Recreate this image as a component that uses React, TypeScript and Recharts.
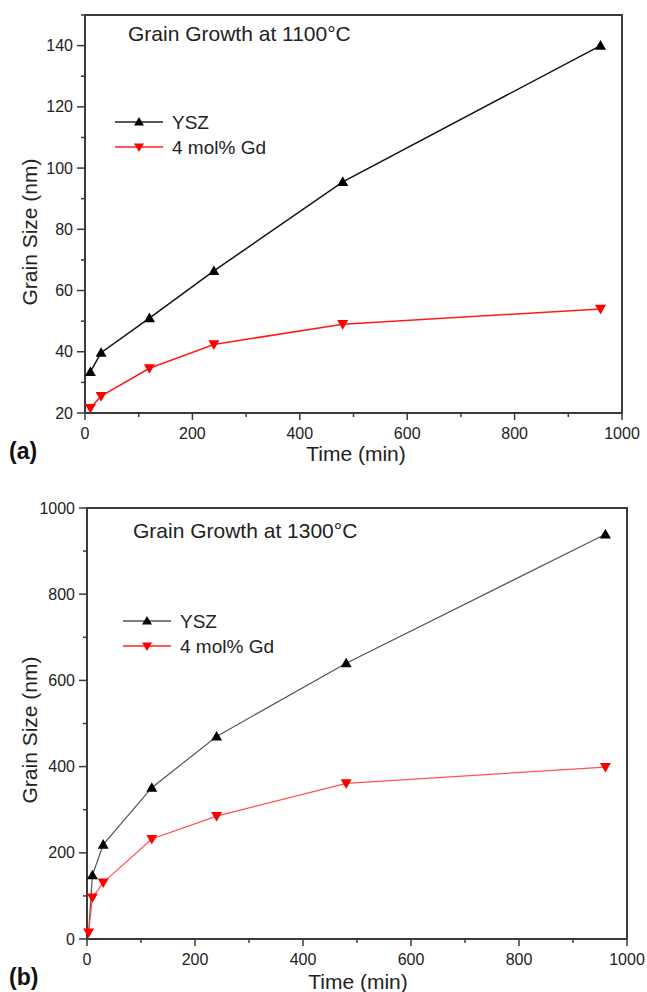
import React from "react";
import {
  LineChart,
  Line,
  XAxis,
  YAxis,
  ReferenceArea,
} from "recharts";

// panel (a) – 1100°C
const timesA = [10, 30, 120, 240, 480, 960];
const yszA = [33.4, 39.7, 51, 66.4, 95.5, 140];
const gdA = [21.6, 25.5, 34.6, 42.4, 49, 54];

// panel (b) – 1300°C
const timesB = [3, 10, 30, 120, 240, 480, 960];
const yszB = [15, 148, 219, 351, 470, 640, 939];
const gdB = [15, 96, 131, 232, 285, 361, 399];

const xTicks = [0, 100, 200, 300, 400, 500, 600, 700, 800, 900, 1000];
const yTicksA = [20, 30, 40, 50, 60, 70, 80, 90, 100, 110, 120, 130, 140, 150];
const yTicksB = [0, 100, 200, 300, 400, 500, 600, 700, 800, 900, 1000];

const dataA = timesA.map((t, i) => ({ t, ysz: yszA[i], gd: gdA[i] }));
const dataB = timesB.map((t, i) => ({ t, ysz: yszB[i], gd: gdB[i] }));

const AXIS = "#3a3a3a";
const FONT = "'Liberation Sans', Arial, sans-serif";

const XTick = (props: any) => {
  const { x, y, payload } = props;
  const major = payload.value % 200 === 0;
  return (
    <g>
      <line x1={x} y1={y} x2={x} y2={y + (major ? 7 : 4)} stroke={AXIS} strokeWidth={1.5} />
      {major && (
        <text x={x} y={y + 26} textAnchor="middle" fontSize={16} fill="#222" fontFamily={FONT}>
          {payload.value}
        </text>
      )}
    </g>
  );
};

const makeYTick = (step: number) => (props: any) => {
  const { x, y, payload } = props;
  const major = payload.value % step === 0;
  return (
    <g>
      <line x1={x} y1={y} x2={x - (major ? 8 : 4)} y2={y} stroke={AXIS} strokeWidth={1.5} />
      {major && (
        <text x={x - 12} y={y + 5.5} textAnchor="end" fontSize={16} fill="#222" fontFamily={FONT}>
          {payload.value}
        </text>
      )}
    </g>
  );
};

const UpTri = (color: string, s: number, skipFirst = false) => (props: any) => {
  const { cx, cy, index } = props;
  if (cx == null || cy == null || (skipFirst && index === 0)) return <g key={index} />;
  return (
    <path
      key={index}
      d={`M${cx},${cy - s} L${cx + s},${cy + s * 0.75} L${cx - s},${cy + s * 0.75} Z`}
      fill={color}
    />
  );
};

const DownTri = (color: string, s: number) => (props: any) => {
  const { cx, cy, index } = props;
  if (cx == null || cy == null) return <g key={index} />;
  return (
    <path
      key={index}
      d={`M${cx},${cy + s} L${cx + s},${cy - s * 0.75} L${cx - s},${cy - s * 0.75} Z`}
      fill={color}
    />
  );
};

const YLabel = ({ cx, cy }: { cx: number; cy: number }) => () => (
  <text
    x={cx}
    y={cy}
    transform={`rotate(-90, ${cx}, ${cy})`}
    textAnchor="middle"
    dominantBaseline="central"
    fontSize={21}
    fill="#222"
    fontFamily={FONT}
  >
    Grain Size (nm)
  </text>
);

const XLabel = ({ cx, cy }: { cx: number; cy: number }) => () => (
  <text x={cx} y={cy} textAnchor="middle" dominantBaseline="central" fontSize={21} fill="#222" fontFamily={FONT}>
    Time (min)
  </text>
);

const LegendBox = ({ left, top, lineColor }: { left: number; top: number; lineColor: string }) => (
  <svg style={{ position: "absolute", left, top }} width={220} height={50}>
    <line x1={0} y1={10} x2={48} y2={10} stroke={lineColor} strokeWidth={1.5} />
    <path d="M24,5 L29,13.5 L19,13.5 Z" fill="#000" />
    <text x={57} y={17} fontSize={19} fill="#222" fontFamily={FONT}>YSZ</text>
    <line x1={0} y1={35} x2={48} y2={35} stroke="#ff2020" strokeWidth={1.5} />
    <path d="M24,40 L29,31.5 L19,31.5 Z" fill="#ff0000" />
    <text x={57} y={42} fontSize={19} fill="#222" fontFamily={FONT}>4 mol% Gd</text>
  </svg>
);

export default function App() {
  return (
    <div
      style={{
        position: "absolute",
        left: 0,
        top: 0,
        width: 647,
        height: 992,
        background: "#fff",
        fontFamily: FONT,
        overflow: "hidden",
      }}
    >
      {/* (a) */}
      <div style={{ position: "absolute", left: 0, top: 0 }}>
        <LineChart
          width={647}
          height={470}
          data={dataA}
          margin={{ top: 15, right: 25, left: 0, bottom: 0 }}
        >
          <XAxis
            dataKey="t"
            type="number"
            domain={[0, 1000]}
            ticks={xTicks}
            interval={0}
            tickSize={0}
            tickMargin={0}
            axisLine={false}
            tickLine={false}
            tick={<XTick />}
            height={57}
            label={XLabel({ cx: 356, cy: 453 })}
          />
          <YAxis
            type="number"
            domain={[20, 150]}
            ticks={yTicksA}
            interval={0}
            tickSize={0}
            tickMargin={0}
            axisLine={false}
            tickLine={false}
            tick={makeYTick(20)}
            width={85}
            label={YLabel({ cx: 29, cy: 232 })}
          />
          <ReferenceArea x1={0} x2={1000} y1={20} y2={150} fill="none" stroke={AXIS} strokeWidth={2} />
          <Line
            dataKey="ysz"
            stroke="#111"
            strokeWidth={1.5}
            dot={UpTri("#000", 5.5)}
            isAnimationActive={false}
          />
          <Line
            dataKey="gd"
            stroke="#ff1a1a"
            strokeWidth={1.5}
            dot={DownTri("#ff0000", 5.5)}
            isAnimationActive={false}
          />
        </LineChart>
        <div style={{ position: "absolute", left: 128, top: 22, fontSize: 21, color: "#222", whiteSpace: "nowrap" }}>
          Grain Growth at 1100°C
        </div>
        <LegendBox left={115} top={112} lineColor="#222" />
        <div style={{ position: "absolute", left: 9, top: 438, fontSize: 23, fontWeight: "bold", color: "#111" }}>
          (a)
        </div>
      </div>

      {/* (b) */}
      <div style={{ position: "absolute", left: 0, top: 490 }}>
        <LineChart
          width={647}
          height={502}
          data={dataB}
          margin={{ top: 18, right: 20, left: 0, bottom: 0 }}
        >
          <XAxis
            dataKey="t"
            type="number"
            domain={[0, 1000]}
            ticks={xTicks}
            interval={0}
            tickSize={0}
            tickMargin={0}
            axisLine={false}
            tickLine={false}
            tick={<XTick />}
            height={53}
            label={XLabel({ cx: 358, cy: 491 })}
          />
          <YAxis
            type="number"
            domain={[0, 1000]}
            ticks={yTicksB}
            interval={0}
            tickSize={0}
            tickMargin={0}
            axisLine={false}
            tickLine={false}
            tick={makeYTick(200)}
            width={87}
            label={YLabel({ cx: 29, cy: 240 })}
          />
          <ReferenceArea x1={0} x2={1000} y1={0} y2={1000} fill="none" stroke={AXIS} strokeWidth={2} />
          <Line
            dataKey="ysz"
            stroke="#555"
            strokeWidth={1.2}
            dot={UpTri("#000", 5.5, true)}
            isAnimationActive={false}
          />
          <Line
            dataKey="gd"
            stroke="#ff5050"
            strokeWidth={1.2}
            dot={DownTri("#ff0000", 5.5)}
            isAnimationActive={false}
          />
        </LineChart>
        <div style={{ position: "absolute", left: 133, top: 29, fontSize: 21, color: "#222", whiteSpace: "nowrap" }}>
          Grain Growth at 1300°C
        </div>
        <LegendBox left={123} top={121} lineColor="#555" />
        <div style={{ position: "absolute", left: 9, top: 474, fontSize: 23, fontWeight: "bold", color: "#111" }}>
          (b)
        </div>
      </div>
    </div>
  );
}
